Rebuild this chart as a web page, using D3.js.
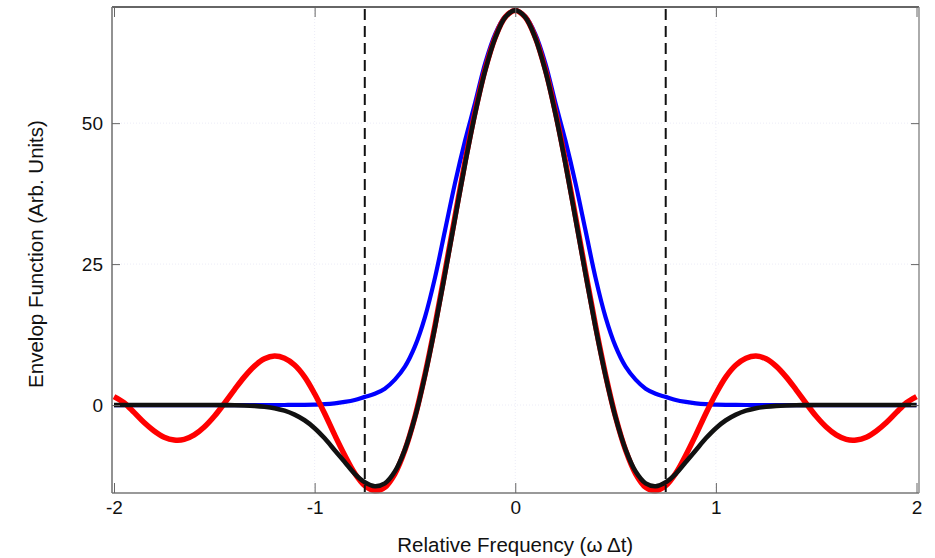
<!DOCTYPE html>
<html>
<head>
<meta charset="utf-8">
<script src="https://cdn.jsdelivr.net/npm/d3@7/dist/d3.min.js"></script>
<style>
  html, body { margin: 0; padding: 0; background: #fff; }
  svg { display: block; font-family: "Liberation Sans", Arial, Helvetica, sans-serif; }
</style>
</head>
<body>
<svg id="chart" width="935" height="558"></svg>
<script>
// Sample frequencies (ω Δt)
const freq = [
  -2.00,-1.95,-1.90,-1.85,-1.80,-1.75,-1.70,-1.65,-1.60,-1.55,
  -1.50,-1.45,-1.40,-1.35,-1.30,-1.25,-1.20,-1.15,-1.10,-1.05,
  -1.00,-0.95,-0.90,-0.85,-0.80,-0.75,-0.70,-0.65,-0.60,-0.55,
  -0.50,-0.45,-0.40,-0.35,-0.30,-0.25,-0.20,-0.15,-0.10,-0.05,
   0.00,
   0.05, 0.10, 0.15, 0.20, 0.25, 0.30, 0.35, 0.40, 0.45, 0.50,
   0.55, 0.60, 0.65, 0.70, 0.75, 0.80, 0.85, 0.90, 0.95, 1.00,
   1.05, 1.10, 1.15, 1.20, 1.25, 1.30, 1.35, 1.40, 1.45, 1.50,
   1.55, 1.60, 1.65, 1.70, 1.75, 1.80, 1.85, 1.90, 1.95, 2.00
];

// Smooth (bell-shaped) envelope
const blueEnv = [
  0,0,0,0,0,0,0,0,0,0,
  0,0,0,0,0,0,0,0.01,0.02,0.04,
  0.08,0.15,0.3,0.55,0.9,1.45,2.0,2.9,4.5,6.8,
  10.4,15.6,22.6,31.0,39.4,46.9,53.6,60.6,65.8,68.9,
  70,
  68.9,65.8,60.6,53.6,46.9,39.4,31.0,22.6,15.6,10.4,
  6.8,4.5,2.9,2.0,1.45,0.9,0.55,0.3,0.15,0.08,
  0.04,0.02,0.01,0,0,0,0,0,0,0,
  0,0,0,0,0,0,0,0,0,0
];

// Oscillating (sinc-like) envelope
const redEnv = [
  1.5,0.4,-1.3,-3.1,-4.6,-5.7,-6.2,-6.1,-5.3,-3.9,
  -2.0,0.3,2.7,5.0,6.9,8.2,8.7,8.3,7.1,5.0,
  2.0,-1.5,-5.3,-8.9,-12.1,-14.3,-15.2,-14.6,-12.2,-8.0,
  -2.1,5.4,14.1,23.7,33.5,43.2,52.0,59.5,65.2,68.8,
  70,
  68.8,65.2,59.5,52.0,43.2,33.5,23.7,14.1,5.4,-2.1,
  -8.0,-12.2,-14.6,-15.2,-14.3,-12.1,-8.9,-5.3,-1.5,2.0,
  5.0,7.1,8.3,8.7,8.2,6.9,5.0,2.7,0.3,-2.0,
  -3.9,-5.3,-6.1,-6.2,-5.7,-4.6,-3.1,-1.3,0.4,1.5
];

// Windowed envelope (single side lobe)
const blackEnv = [
  0,0,0,0,0,0,0,0,0,0,
  0,-0.01,-0.03,-0.07,-0.15,-0.3,-0.55,-1.0,-1.7,-2.7,
  -4.1,-5.9,-8.0,-10.1,-12.2,-13.7,-14.4,-13.9,-11.8,-7.9,
  -2.2,5.2,13.8,23.3,33.1,42.8,51.7,59.3,65.1,68.8,
  70,
  68.8,65.1,59.3,51.7,42.8,33.1,23.3,13.8,5.2,-2.2,
  -7.9,-11.8,-13.9,-14.4,-13.7,-12.2,-10.1,-8.0,-5.9,-4.1,
  -2.7,-1.7,-1.0,-0.55,-0.3,-0.15,-0.07,-0.03,-0.01,0,
  0,0,0,0,0,0,0,0,0,0
];

const xTicks = [-2, -1, 0, 1, 2];
const yTicks = [0, 25, 50];
const markers = [-0.75, 0.75];

const svg = d3.select("#chart");
const plot = { left: 112, right: 919, top: 7, bottom: 493 };

const x = d3.scaleLinear().domain([-2, 2]).range([114, 916.5]);
const y = d3.scaleLinear().domain([-15.6, 70.6]).range([plot.bottom, plot.top]);

// faint grid
const grid = svg.append("g").attr("stroke", "#ececf7").attr("stroke-width", 1).attr("stroke-dasharray", "1,2");
grid.selectAll("line.gx").data(xTicks.filter(d => d !== -2 && d !== 2)).join("line")
  .attr("x1", d => x(d)).attr("x2", d => x(d)).attr("y1", plot.top).attr("y2", plot.bottom);
grid.selectAll("line.gy").data(yTicks).join("line")
  .attr("x1", plot.left).attr("x2", plot.right).attr("y1", d => y(d)).attr("y2", d => y(d));

// curves
const line = (vals) => d3.line()
  .x((d, i) => x(freq[i]))
  .y(d => y(d))
  .curve(d3.curveCatmullRom.alpha(0.5))(vals);

svg.append("path").attr("d", line(blueEnv)).attr("fill", "none")
  .attr("stroke", "#0000ff").attr("stroke-width", 4.2).attr("stroke-linejoin", "round");
svg.append("path").attr("d", line(redEnv)).attr("fill", "none")
  .attr("stroke", "#ff0000").attr("stroke-width", 5.5).attr("stroke-linejoin", "round");
svg.append("path").attr("d", line(blackEnv)).attr("fill", "none")
  .attr("stroke", "#111111").attr("stroke-width", 4.6).attr("stroke-linejoin", "round");

// dashed markers
svg.selectAll("line.marker").data(markers).join("line")
  .attr("x1", d => x(d)).attr("x2", d => x(d))
  .attr("y1", plot.top + 2).attr("y2", plot.bottom - 1)
  .attr("stroke", "#111").attr("stroke-width", 2).attr("stroke-dasharray", "11,6");

// frame
svg.append("line").attr("x1", plot.left).attr("x2", plot.right).attr("y1", plot.top).attr("y2", plot.top)
  .attr("stroke", "#333").attr("stroke-width", 1.6);
svg.append("line").attr("x1", plot.left).attr("x2", plot.right).attr("y1", plot.bottom).attr("y2", plot.bottom)
  .attr("stroke", "#777").attr("stroke-width", 1.4);
svg.append("line").attr("x1", plot.left).attr("x2", plot.left).attr("y1", plot.top).attr("y2", plot.bottom)
  .attr("stroke", "#777").attr("stroke-width", 1.6);
svg.append("line").attr("x1", plot.right).attr("x2", plot.right).attr("y1", plot.top).attr("y2", plot.bottom)
  .attr("stroke", "#888").attr("stroke-width", 1.4);

// axes (ticks drawn inward); labels use a plain hyphen for negatives
const fmt = d => String(d);
const axB = svg.append("g").attr("transform", `translate(0,${plot.bottom})`)
  .call(d3.axisBottom(x).tickValues(xTicks).tickSizeInner(-10).tickSizeOuter(0).tickPadding(8).tickFormat(fmt));
const axT = svg.append("g").attr("transform", `translate(0,${plot.top})`)
  .call(d3.axisTop(x).tickValues(xTicks).tickSizeInner(-10).tickSizeOuter(0).tickFormat(""));
const axL = svg.append("g").attr("transform", `translate(${plot.left},0)`)
  .call(d3.axisLeft(y).tickValues(yTicks).tickSizeInner(-8).tickSizeOuter(0).tickPadding(9).tickFormat(fmt));
const axR = svg.append("g").attr("transform", `translate(${plot.right},0)`)
  .call(d3.axisRight(y).tickValues(yTicks).tickSizeInner(-8).tickSizeOuter(0).tickFormat(""));

[axB, axT, axL, axR].forEach(g => {
  g.select(".domain").remove();
  g.selectAll(".tick line").attr("stroke", "#666").attr("stroke-width", 1);
  g.selectAll("text").attr("fill", "#111").style("font-size", "19px")
    .style("font-family", "'Liberation Sans', Arial, sans-serif");
});

// titles
svg.append("text")
  .attr("x", (x(-2) + x(2)) / 2).attr("y", 552)
  .attr("text-anchor", "middle")
  .style("font-size", "20.5px").attr("fill", "#111")
  .text("Relative Frequency (ω Δt)");

svg.append("text")
  .attr("transform", `translate(43,${254}) rotate(-90)`)
  .attr("text-anchor", "middle")
  .style("font-size", "20.5px").attr("fill", "#111")
  .text("Envelop Function (Arb. Units)");
</script>
</body>
</html>
